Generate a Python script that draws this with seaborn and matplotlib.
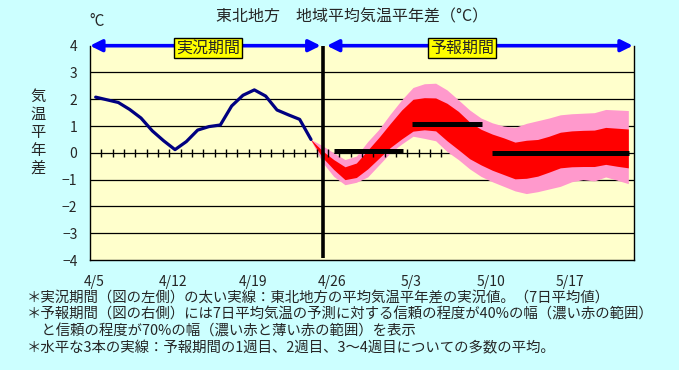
import numpy as np
import pandas as pd
import matplotlib
matplotlib.use("Agg")
import matplotlib.pyplot as plt
import matplotlib.transforms as mtransforms
import seaborn as sns

# days counted from 4/5
obs_day = [0.5, 1.5, 2.5, 3.5, 4.5, 5.5, 6.5, 7.5, 8.5, 9.5,
           10.5, 11.5, 12.5, 13.5, 14.5, 15.5, 16.5, 17.5, 18.5, 19.5]
obs_val = [2.08, 1.98, 1.88, 1.62, 1.30, 0.82, 0.45, 0.12, 0.42, 0.85,
           0.98, 1.04, 1.75, 2.15, 2.35, 2.12, 1.60, 1.42, 1.25, 0.50]

fc_day = [19.5, 20.5, 21.5, 22.5, 23.5, 24.5, 25.5, 26.5, 27.5, 28.5,
          29.5, 30.5, 31.5, 32.5, 33.5, 34.5, 35.5, 36.5, 37.5, 38.5,
          39.5, 40.5, 41.5, 42.5, 43.5, 44.5, 45.5, 46.5, 47.5]
pink_hi = [0.50, 0.27, 0.00, -0.25, -0.12, 0.42, 0.88, 1.45, 1.98, 2.44,
           2.58, 2.60, 2.35, 1.98, 1.60, 1.30, 1.12, 1.00, 0.95, 1.10,
           1.20, 1.30, 1.42, 1.46, 1.48, 1.50, 1.62, 1.60, 1.58]
red_hi = [0.49, 0.08, -0.25, -0.52, -0.38, 0.10, 0.58, 1.10, 1.60, 2.00,
          2.06, 2.05, 1.85, 1.55, 1.15, 0.88, 0.70, 0.56, 0.40, 0.47,
          0.50, 0.62, 0.77, 0.82, 0.84, 0.85, 0.95, 0.92, 0.89]
red_lo = [0.47, -0.17, -0.62, -1.00, -0.92, -0.60, -0.20, 0.20, 0.52, 0.81,
          0.86, 0.82, 0.45, 0.12, -0.22, -0.45, -0.65, -0.81, -0.97, -0.95,
          -0.87, -0.72, -0.56, -0.52, -0.51, -0.51, -0.43, -0.50, -0.56]
pink_lo = [0.46, -0.35, -0.88, -1.19, -1.10, -0.90, -0.45, 0.00, 0.33, 0.62,
           0.54, 0.45, 0.05, -0.25, -0.60, -0.88, -1.08, -1.25, -1.42, -1.52,
           -1.45, -1.35, -1.25, -1.08, -1.00, -1.05, -0.90, -1.02, -1.15]

# weekly means (1st week, 2nd week, 3-4th week)
wk_start = [21.5, 28.4, 35.5]
wk_end = [27.6, 34.6, 47.6]
wk_val = [0.08, 1.09, 0.0]

split_day = 20.6
minor_days = list(range(1, 32))
x_ticks = [0, 7, 14, 21, 28, 35, 42]
x_labels = ["4/5", "4/12", "4/19", "4/26", "5/3", "5/10", "5/17"]
y_ticks = [-4, -3, -2, -1, 0, 1, 2, 3, 4]

title = "東北地方　地域平均気温平年差（°C）"
ylab = "気温平年差"
notes = [
    "＊実況期間（図の左側）の太い実線：東北地方の平均気温平年差の実況値。（7日平均値）",
    "＊予報期間（図の右側）には7日平均気温の予測に対する信頼の程度が40%の幅（濃い赤の範囲）",
    "　と信頼の程度が70%の幅（濃い赤と薄い赤の範囲）を表示",
    "＊水平な3本の実線：予報期間の1週目、2週目、3～4週目についての多数の平均。",
]

sns.set_style("white")
plt.rcParams['font.family'] = ['Noto Sans CJK JP', 'DejaVu Sans']

W, H = 679, 370
fig = plt.figure(figsize=(W / 100, H / 100), dpi=100, facecolor='#CCFFFF')
ax = fig.add_axes([90 / W, 1 - 260 / H, (634 - 90) / W, (260 - 45.7) / H])
ax.set_facecolor('#FFFFCC')
ax.set_xlim(0, 48)
ax.set_ylim(-4, 4)

# grid
for yv in y_ticks[1:-1]:
    ax.axhline(yv, color='black', lw=0.9, zorder=1)

# forecast bands
ax.fill_between(fc_day, pink_lo, pink_hi, color='#FF99CC', lw=0, zorder=2)
ax.fill_between(fc_day, red_lo, red_hi, color='#FF0000', lw=0, zorder=3)

# observed line
obs_df = pd.DataFrame({"day": obs_day, "val": obs_val})
sns.lineplot(data=obs_df, x="day", y="val", color='#000080', lw=2.3, ax=ax, zorder=4)

# daily ticks on zero line
ax.plot(minor_days, [0] * len(minor_days), ls='none', marker='|', ms=6, mew=1,
        color='black', zorder=5)

# weekly means
for s, e, v in zip(wk_start, wk_end, wk_val):
    ax.plot([s, e], [v, v], color='black', lw=3.6, solid_capstyle='butt', zorder=6)

# split line
ax.plot([split_day, split_day], [-3.92, 4], color='black', lw=2.6, zorder=7,
        solid_capstyle='butt', clip_on=False)

# period arrows
for x0, x1 in [(0, 20.35), (20.9, 47.9)]:
    ax.annotate('', xy=(x0, 4), xytext=(x1, 4), xycoords='data',
                arrowprops=dict(arrowstyle='<|-|>,head_length=0.7,head_width=0.35',
                                color='#0000FF', lw=2.6, shrinkA=0, shrinkB=0),
                annotation_clip=False, zorder=8)
box = dict(boxstyle='square,pad=0.12', fc='#FFFF00', ec='black', lw=1)
ax.text(208 / W, 1 - 48 / H, "実況期間", transform=fig.transFigure, ha='center',
        va='center', fontsize=11.5, bbox=box, zorder=9)
ax.text(461.7 / W, 1 - 48 / H, "予報期間", transform=fig.transFigure, ha='center',
        va='center', fontsize=11.5, bbox=box, zorder=9)

# axes styling
for side in ['left', 'bottom', 'right']:
    ax.spines[side].set_color('black')
    ax.spines[side].set_linewidth(1)
ax.spines['top'].set_visible(False)
ax.set_xticks(x_ticks)
ax.set_xticklabels(x_labels, fontsize=10)
ax.set_yticks(y_ticks)
ax.set_yticklabels([str(v).replace('-', '−') for v in y_ticks], fontsize=10)
ax.tick_params(axis='x', direction='in', length=4, width=1, color='black', pad=11)
ax.tick_params(axis='y', length=0, pad=9)
ax.set_xlabel('')
ax.set_ylabel('')
shift = mtransforms.ScaledTranslation(4 / 100, 0, fig.dpi_scale_trans)
for lab in ax.get_xticklabels():
    lab.set_transform(lab.get_transform() + shift)

# texts
fig.text(352 / W, 1 - 17 / H, title, ha='center', va='center', fontsize=11.5)
fig.text(97 / W, 1 - 21.5 / H, "°C", ha='center', va='center', fontsize=11)
for i, ch in enumerate(ylab):
    fig.text(37.7 / W, 1 - (96.7 + i * 17.8) / H, ch, ha='center', va='center',
             fontsize=11)
for yy, line in zip([298, 315, 331.5, 348.5], notes):
    fig.text(27 / W, 1 - yy / H, line, ha='left', va='center', fontsize=10.4)

fig.savefig("out.png", dpi=100, facecolor=fig.get_facecolor())
